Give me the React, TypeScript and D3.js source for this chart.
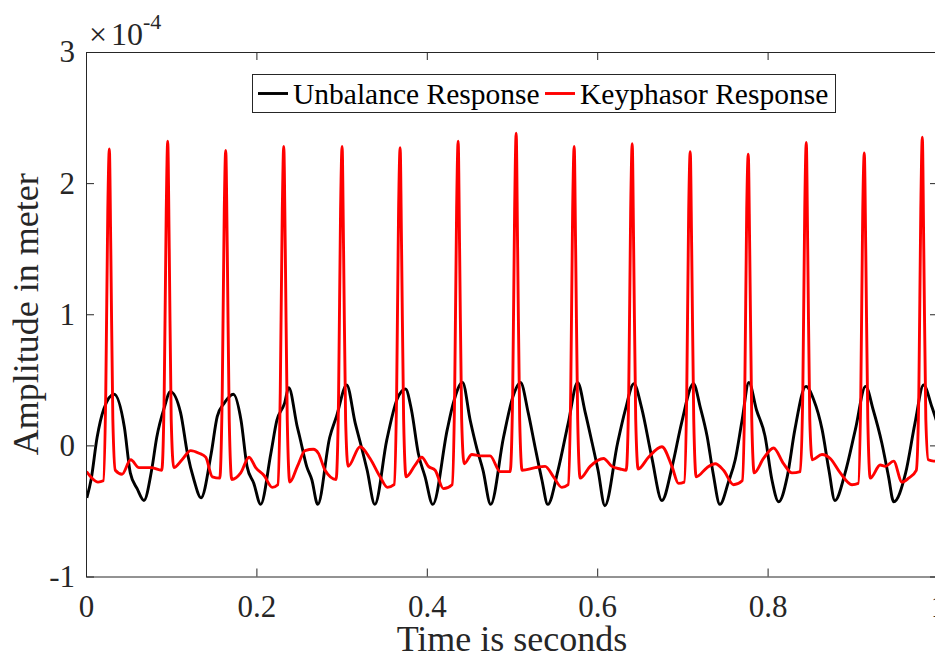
import React, { useEffect, useRef } from "react";
import * as d3 from "d3";

// values in units of 1e-4 m
const unbalanceResponse: [number, number][] = [
  [0.001, -0.40], [0.006, -0.26], [0.013, 0.06], [0.021, 0.28], [0.033, 0.39],
  [0.045, 0.14], [0.052, -0.21], [0.060, -0.33], [0.068, -0.42], [0.077, -0.19],
  [0.083, 0.06], [0.092, 0.29], [0.099, 0.41], [0.111, 0.25], [0.119, -0.06],
  [0.127, -0.27], [0.135, -0.40], [0.147, -0.06], [0.154, 0.22], [0.162, 0.32],
  [0.173, 0.39], [0.182, 0.19], [0.189, -0.16], [0.197, -0.29], [0.205, -0.45],
  [0.217, -0.06], [0.224, 0.19], [0.233, 0.32], [0.238, 0.44], [0.248, 0.14],
  [0.251, 0.06], [0.259, -0.16], [0.265, -0.26], [0.272, -0.45], [0.286, 0.06],
  [0.294, 0.22], [0.306, 0.46], [0.316, 0.17], [0.322, 0.02], [0.330, -0.19],
  [0.339, -0.45], [0.353, 0.04], [0.365, 0.35], [0.375, 0.43], [0.382, 0.27],
  [0.390, -0.06], [0.398, -0.24], [0.407, -0.45], [0.424, 0.12], [0.431, 0.32],
  [0.442, 0.48], [0.451, 0.19], [0.459, -0.03], [0.466, -0.19], [0.475, -0.45],
  [0.490, 0.06], [0.501, 0.37], [0.510, 0.48], [0.519, 0.25], [0.527, -0.01],
  [0.535, -0.26], [0.542, -0.45], [0.554, -0.19], [0.566, 0.17], [0.577, 0.48],
  [0.586, 0.25], [0.594, 0.02], [0.601, -0.19], [0.609, -0.46], [0.624, 0.02],
  [0.633, 0.27], [0.643, 0.47], [0.652, 0.29], [0.664, -0.09], [0.676, -0.42],
  [0.688, -0.16], [0.699, 0.17], [0.713, 0.47], [0.721, 0.29], [0.729, 0.07],
  [0.736, -0.21], [0.744, -0.45], [0.754, -0.28], [0.762, -0.11], [0.770, 0.19],
  [0.778, 0.48], [0.787, 0.27], [0.797, 0.07], [0.805, -0.26], [0.813, -0.43],
  [0.823, -0.24], [0.832, 0.12], [0.845, 0.45], [0.854, 0.35], [0.864, 0.12],
  [0.872, -0.19], [0.879, -0.42], [0.891, -0.21], [0.903, 0.12], [0.915, 0.45],
  [0.924, 0.27], [0.934, 0.02], [0.942, -0.24], [0.948, -0.43], [0.962, -0.21],
  [0.973, 0.17], [0.983, 0.46], [0.993, 0.29], [1.000, 0.15],
];

const keyphasorResponse: [number, number][] = [
  [0.0006, -0.20], [0.0070, -0.25], [0.0141, -0.28],
  [0.0203, -0.27], [0.0232, 0.4], [0.0256, 1.8], [0.0274, 2.26], [0.0291, 1.5], [0.0315, 0.2], [0.0344, -0.19],
  [0.0423, -0.22], [0.0525, -0.11], [0.0622, -0.17], [0.0760, -0.17],
  [0.0889, -0.19], [0.0918, 0.4], [0.0942, 1.8], [0.0959, 2.32], [0.0977, 1.5], [0.1000, 0.2], [0.1030, -0.17],
  [0.1127, -0.11], [0.1229, -0.04], [0.1327, -0.06], [0.1405, -0.09], [0.1483, -0.24],
  [0.1570, -0.25], [0.1599, 0.4], [0.1623, 1.8], [0.1640, 2.25], [0.1658, 1.5], [0.1681, 0.2], [0.1711, -0.26],
  [0.1816, -0.21], [0.1914, -0.09], [0.1992, -0.17], [0.2090, -0.23], [0.2187, -0.32],
  [0.2251, -0.30], [0.2280, 0.4], [0.2304, 1.8], [0.2321, 2.28], [0.2339, 1.5], [0.2362, 0.2], [0.2392, -0.28],
  [0.2481, -0.16], [0.2571, -0.04], [0.2669, -0.03], [0.2727, -0.06], [0.2806, -0.19],
  [0.2935, -0.26], [0.2965, 0.4], [0.2988, 1.8], [0.3006, 2.28], [0.3023, 1.5], [0.3047, 0.2], [0.3076, -0.16],
  [0.3217, -0.01], [0.3334, -0.10], [0.3452, -0.24], [0.3538, -0.32],
  [0.3616, -0.30], [0.3646, 0.4], [0.3669, 1.8], [0.3687, 2.27], [0.3704, 1.5], [0.3728, 0.2], [0.3757, -0.24],
  [0.3863, -0.15], [0.3941, -0.09], [0.4019, -0.16], [0.4098, -0.19], [0.4195, -0.33],
  [0.4297, -0.30], [0.4327, 0.4], [0.4350, 1.8], [0.4368, 2.32], [0.4385, 1.5], [0.4409, 0.2], [0.4438, -0.14],
  [0.4529, -0.07], [0.4626, -0.08], [0.4743, -0.08], [0.4861, -0.20],
  [0.4978, -0.20], [0.5008, 0.4], [0.5031, 1.8], [0.5049, 2.38], [0.5066, 1.5], [0.5090, 0.2], [0.5119, -0.19],
  [0.5272, -0.17], [0.5389, -0.16], [0.5487, -0.24], [0.5585, -0.32],
  [0.5659, -0.30], [0.5689, 0.4], [0.5712, 1.8], [0.5730, 2.28], [0.5747, 1.5], [0.5771, 0.2], [0.5800, -0.25],
  [0.5917, -0.16], [0.6074, -0.10], [0.6172, -0.16], [0.6270, -0.18],
  [0.6340, -0.19], [0.6370, 0.4], [0.6393, 1.8], [0.6411, 2.30], [0.6428, 1.5], [0.6452, 0.2], [0.6481, -0.18],
  [0.6602, -0.09], [0.6759, -0.01], [0.6877, -0.16], [0.6954, -0.29],
  [0.7021, -0.28], [0.7051, 0.4], [0.7074, 1.8], [0.7092, 2.24], [0.7109, 1.5], [0.7133, 0.2], [0.7162, -0.24],
  [0.7288, -0.17], [0.7385, -0.14], [0.7483, -0.19], [0.7600, -0.30],
  [0.7702, -0.27], [0.7732, 0.4], [0.7755, 1.8], [0.7773, 2.22], [0.7790, 1.5], [0.7814, 0.2], [0.7843, -0.21],
  [0.7952, -0.10], [0.8070, -0.02], [0.8187, -0.14], [0.8286, -0.21],
  [0.8383, -0.20], [0.8413, 0.4], [0.8436, 1.8], [0.8454, 2.31], [0.8471, 1.5], [0.8495, 0.2], [0.8524, -0.11],
  [0.8638, -0.07], [0.8735, -0.10], [0.8853, -0.21], [0.8990, -0.30],
  [0.9064, -0.29], [0.9094, 0.4], [0.9117, 1.8], [0.9135, 2.23], [0.9152, 1.5], [0.9176, 0.2], [0.9205, -0.25],
  [0.9322, -0.15], [0.9381, -0.16], [0.9479, -0.12], [0.9577, -0.28], [0.9655, -0.25],
  [0.9745, -0.19], [0.9775, 0.4], [0.9798, 1.8], [0.9816, 2.35], [0.9833, 1.5], [0.9857, 0.2], [0.9886, -0.11],
  [0.9948, -0.12], [1.0, -0.12],
];

const xTicks = [0, 0.2, 0.4, 0.6, 0.8, 1];
const xTickLabels = ["0", "0.2", "0.4", "0.6", "0.8", "1"];
const yTicks = [-1, 0, 1, 2, 3];
const yTickLabels = ["-1", "0", "1", "2", "3"];
const seriesNames = ["Unbalance Response", "Keyphasor Response"];
const seriesColors = ["#000000", "#ff0000"];

const W = 935;
const H = 659;
const FONT = "'Liberation Serif', 'Times New Roman', serif";
const INK = "#262626";

export default function App() {
  const ref = useRef<SVGSVGElement>(null);

  useEffect(() => {
    const svg = d3.select(ref.current);
    svg.selectAll("*").remove();

    const left = 86, right = 938, top = 52, bottom = 576.5;
    const x = d3.scaleLinear().domain([0, 1]).range([left, right]);
    const y = d3.scaleLinear().domain([-1, 3]).range([bottom, top]);

    svg.append("rect").attr("width", W).attr("height", H).attr("fill", "#fff");

    svg.append("clipPath").attr("id", "plot-clip")
      .append("rect")
      .attr("x", left).attr("y", top)
      .attr("width", right - left).attr("height", bottom - top);

    const line = d3.line<[number, number]>()
      .x(d => x(d[0]))
      .y(d => y(d[1]))
      .curve(d3.curveMonotoneX);

    const plot = svg.append("g").attr("clip-path", "url(#plot-clip)");
    [unbalanceResponse, keyphasorResponse].forEach((data, i) => {
      plot.append("path")
        .datum(data)
        .attr("d", line)
        .attr("fill", "none")
        .attr("stroke", seriesColors[i])
        .attr("stroke-width", 2.9)
        .attr("stroke-linejoin", "round");
    });

    // axes, ticks pointing inward like matlab
    const fmtX = (d: d3.NumberValue) => xTickLabels[xTicks.indexOf(+d)];
    const fmtY = (d: d3.NumberValue) => yTickLabels[yTicks.indexOf(+d)];

    const styleAxis = (g: d3.Selection<SVGGElement, unknown, null, undefined>) => {
      g.attr("font-family", FONT).attr("font-size", 31);
      g.select(".domain").attr("stroke", INK).attr("stroke-width", 1);
      g.selectAll(".tick line").attr("stroke", INK).attr("stroke-width", 1);
      g.selectAll(".tick text").attr("fill", INK);
    };

    svg.append("g")
      .attr("transform", `translate(0,${bottom})`)
      .call(d3.axisBottom(x).tickValues(xTicks).tickFormat(fmtX).tickSizeInner(-8).tickSizeOuter(0).tickPadding(18))
      .call(styleAxis);

    svg.append("g")
      .attr("transform", `translate(0,${top})`)
      .call(d3.axisTop(x).tickValues(xTicks).tickFormat(() => "").tickSizeInner(-8).tickSizeOuter(0))
      .call(styleAxis);

    svg.append("g")
      .attr("transform", `translate(${left},0)`)
      .call(d3.axisLeft(y).tickValues(yTicks).tickFormat(fmtY).tickSizeInner(-8).tickSizeOuter(0).tickPadding(11))
      .call(styleAxis);

    svg.append("g")
      .attr("transform", `translate(${right},0)`)
      .call(d3.axisRight(y).tickValues(yTicks).tickFormat(() => "").tickSizeInner(-8).tickSizeOuter(0))
      .call(styleAxis);

    // exponent
    const expo = svg.append("text")
      .attr("x", 89).attr("y", 45)
      .attr("font-family", FONT).attr("font-size", 32).attr("fill", INK);
    expo.append("tspan").text("\u00d7");
    expo.append("tspan").attr("dx", 4).text("10");
    expo.append("tspan").attr("dy", -16).attr("font-size", 22).text("-4");

    // axis labels
    svg.append("text")
      .attr("x", (left + right) / 2).attr("y", 651)
      .attr("text-anchor", "middle")
      .attr("font-family", FONT).attr("font-size", 36).attr("fill", INK)
      .text("Time is seconds");

    svg.append("text")
      .attr("transform", `translate(38,${(top + bottom) / 2}) rotate(-90)`)
      .attr("text-anchor", "middle")
      .attr("font-family", FONT).attr("font-size", 36).attr("fill", INK)
      .text("Amplitude in meter");

    // legend
    const lg = svg.append("g");
    lg.append("rect")
      .attr("x", 252.5).attr("y", 74.5).attr("width", 583).attr("height", 38)
      .attr("fill", "#fff").attr("stroke", INK).attr("stroke-width", 1);
    const items = [{ x0: 258, tx: 293 }, { x0: 545, tx: 580 }];
    items.forEach((it, i) => {
      lg.append("line")
        .attr("x1", it.x0).attr("x2", it.x0 + 30)
        .attr("y1", 93.5).attr("y2", 93.5)
        .attr("stroke", seriesColors[i]).attr("stroke-width", 2.9);
      lg.append("text")
        .attr("x", it.tx).attr("y", 103.5)
        .attr("font-family", FONT).attr("font-size", 29.5).attr("fill", "#000")
        .text(seriesNames[i]);
    });
  }, []);

  return (
    <svg
      ref={ref}
      width={W}
      height={H}
      style={{ position: "absolute", left: 0, top: 0, display: "block" }}
    />
  );
}
